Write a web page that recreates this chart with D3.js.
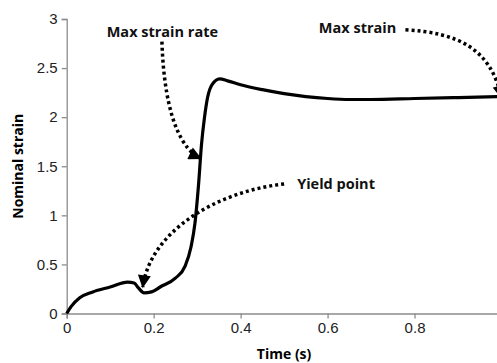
<!DOCTYPE html>
<html>
<head>
<meta charset="utf-8">
<script src="https://cdn.jsdelivr.net/npm/d3@7"></script>
<style>
  body { margin: 0; background: #fff; }
  svg { display: block; font-family: "Open Sans", sans-serif; }
</style>
</head>
<body>
<div id="chart"></div>
<script>
// time (s) and nominal strain
const time = [0, 0.01, 0.03, 0.06, 0.10, 0.14, 0.155, 0.165, 0.178, 0.195, 0.215, 0.25, 0.272, 0.286, 0.295, 0.303, 0.31, 0.317, 0.324, 0.334, 0.352, 0.37, 0.40, 0.45, 0.50, 0.55, 0.60, 0.65, 0.70, 0.80, 0.90, 0.99];
const strain = [0, 0.07, 0.16, 0.22, 0.27, 0.32, 0.31, 0.26, 0.21, 0.22, 0.27, 0.36, 0.48, 0.68, 0.92, 1.3, 1.72, 2.0, 2.2, 2.33, 2.39, 2.37, 2.33, 2.28, 2.24, 2.21, 2.19, 2.18, 2.18, 2.19, 2.20, 2.21];

const yTicks = [0, 0.5, 1, 1.5, 2, 2.5, 3];
const xTicks = [0, 0.2, 0.4, 0.6, 0.8];

// annotations: label position and arrow (start, control points, tip) in data units
const notes = [
  { label: 'Max strain rate', at: [0.092, 2.87], pts: [[0.219, 2.77], [0.225, 1.95], [0.27, 1.66], [0.308, 1.58]] },
  { label: 'Max strain', at: [0.58, 2.91], pts: [[0.779, 2.89], [0.9, 2.86], [0.975, 2.7], [1.0, 2.2]] },
  { label: 'Yield point', at: [0.53, 1.32], pts: [[0.5, 1.32], [0.341, 1.24], [0.192, 0.83], [0.175, 0.27]] }
];

const W = 497, H = 363;
const margin = { left: 66.7, top: 19, right: -4.5, bottom: 49.5 };
const w = W - margin.left - margin.right;
const h = H - margin.top - margin.bottom;

const svg = d3.select('#chart').append('svg')
  .attr('width', W)
  .attr('height', H);

svg.append('defs').append('marker')
  .attr('id', 'head')
  .attr('viewBox', '0 0 10 10')
  .attr('refX', 9)
  .attr('refY', 5)
  .attr('markerUnits', 'userSpaceOnUse')
  .attr('markerWidth', 15)
  .attr('markerHeight', 13)
  .attr('orient', 'auto')
  .append('path')
  .attr('d', 'M0,0L10,5L0,10Z')
  .attr('fill', '#000');

const g = svg.append('g').attr('transform', `translate(${margin.left},${margin.top})`);

const x = d3.scaleLinear().domain([0, 1]).range([0, w]);
const y = d3.scaleLinear().domain([0, 3]).range([h, 0]);

const yAxis = g.append('g')
  .call(d3.axisLeft(y).tickValues(yTicks).tickSize(5).tickPadding(4).tickFormat(d3.format('')));
const xAxis = g.append('g')
  .attr('transform', `translate(0,${h})`)
  .call(d3.axisBottom(x).tickValues(xTicks).tickSize(5).tickPadding(4).tickFormat(d3.format('')));

[yAxis, xAxis].forEach(a => {
  a.select('.domain').attr('stroke', '#8c8c8c').attr('stroke-width', 1.3);
  a.selectAll('.tick line').attr('stroke', '#8c8c8c').attr('stroke-width', 1.3);
  a.selectAll('.tick text').attr('fill', '#222').style('font-size', '15px');
});

// curve
const line = d3.line()
  .x((d, i) => x(time[i]))
  .y((d, i) => y(strain[i]))
  .curve(d3.curveMonotoneX);

g.append('path')
  .datum(strain)
  .attr('d', line)
  .attr('fill', 'none')
  .attr('stroke', '#000')
  .attr('stroke-width', 3.2)
  .attr('stroke-linejoin', 'round');

// annotations
notes.forEach(n => {
  const p = n.pts.map(q => [x(q[0]), y(q[1])]);
  const path = d3.path();
  path.moveTo(p[0][0], p[0][1]);
  path.bezierCurveTo(p[1][0], p[1][1], p[2][0], p[2][1], p[3][0], p[3][1]);
  g.append('path')
    .attr('d', path.toString())
    .attr('fill', 'none')
    .attr('stroke', '#000')
    .attr('stroke-width', 3.5)
    .attr('stroke-dasharray', '3,3')
    .attr('marker-end', 'url(#head)');

  g.append('text')
    .attr('x', x(n.at[0]))
    .attr('y', y(n.at[1]))
    .attr('dy', '0.35em')
    .style('font-size', '14.5px')
    .style('font-weight', 'bold')
    .attr('fill', '#111')
    .text(n.label);
});

// axis titles
svg.append('text')
  .attr('x', margin.left + w / 2)
  .attr('y', 354)
  .attr('dy', '0.35em')
  .attr('text-anchor', 'middle')
  .style('font-size', '14px')
  .style('font-weight', 'bold')
  .text('Time (s)');

svg.append('text')
  .attr('transform', `translate(18,${margin.top + h / 2}) rotate(-90)`)
  .attr('dy', '0.35em')
  .attr('text-anchor', 'middle')
  .style('font-size', '14px')
  .style('font-weight', 'bold')
  .text('Nominal strain');
</script>
</body>
</html>
